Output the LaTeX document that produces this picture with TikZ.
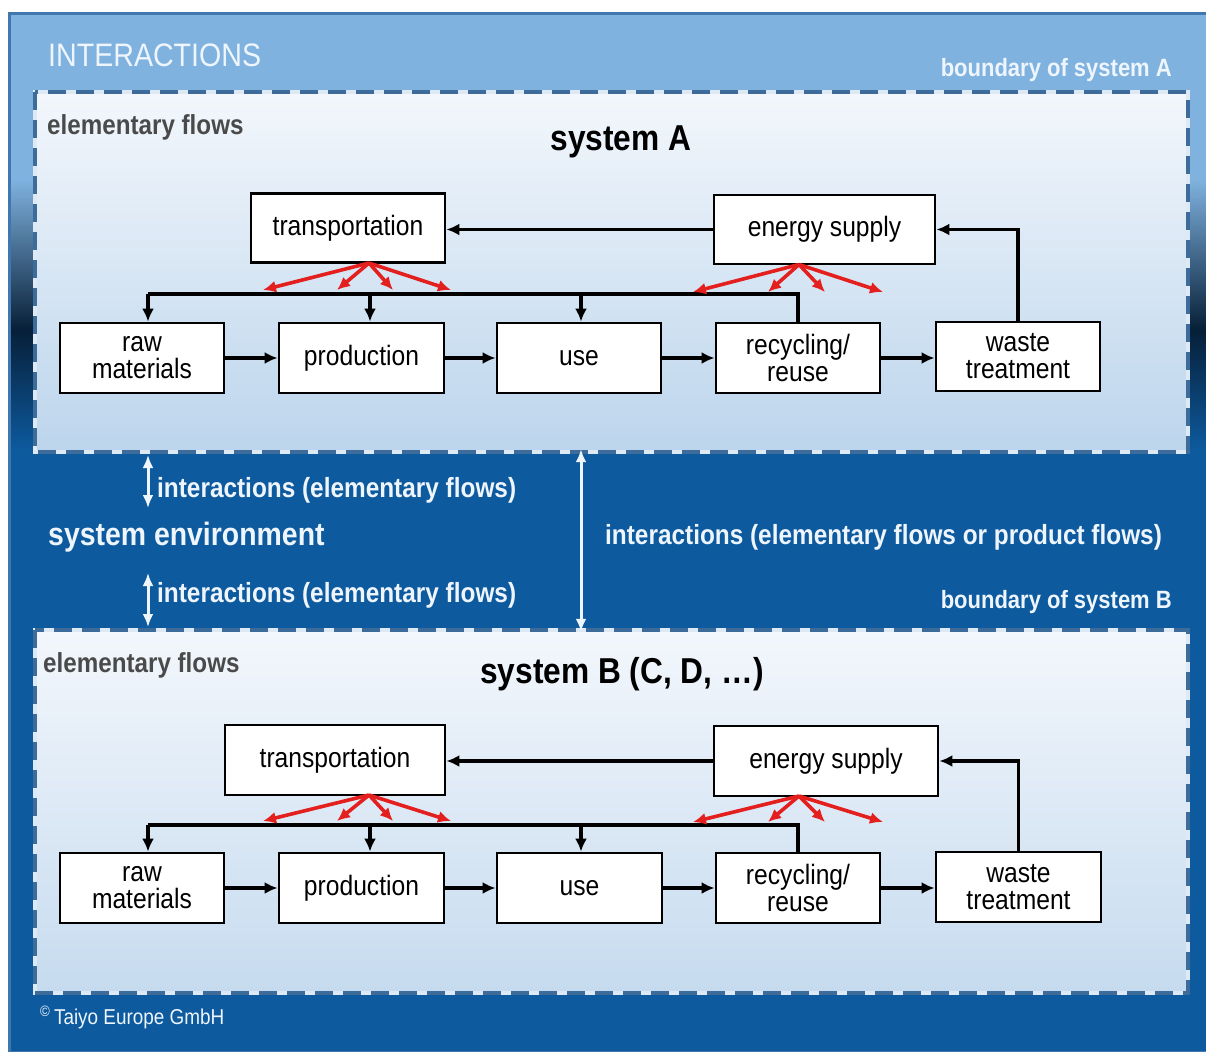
\documentclass[tikz,border=0pt]{standalone}
\usepackage{fontspec}
\setmainfont{Liberation Sans}[FakeStretch=0.88]
\usetikzlibrary{arrows.meta}
\definecolor{skyTop}{HTML}{7FB2DF}
\definecolor{navyDark}{HTML}{071F38}
\definecolor{envBlue}{HTML}{0D5A9E}
\definecolor{frameBlue}{HTML}{3F77AE}
\definecolor{dashBlue}{HTML}{3D6C9A}
\definecolor{gapLight}{HTML}{DDE9F5}
\definecolor{boxTop}{HTML}{F3F7FC}
\definecolor{boxBot}{HTML}{BCD5EC}
\definecolor{boxBotB}{HTML}{C6DBEF}
\definecolor{flowGray}{HTML}{4A4A4A}
\definecolor{paleText}{HTML}{EEF5FC}
\definecolor{redFlow}{HTML}{E3201E}
\tikzset{
  pbox/.style={draw=black, line width=2.8pt, fill=white, align=center, inner sep=0pt,
    font=\fontsize{28}{27}\selectfont},
  flowarr/.style={draw=black, line width=3.2pt, -{Latex[length=13pt,width=12pt]}},
  flowline/.style={draw=black, line width=3.2pt},
  redarr/.style={draw=redFlow, line width=3.6pt, -{Latex[length=13pt,width=12pt]}},
  envarr/.style={draw=paleText, line width=3pt, {Latex[length=13pt,width=11pt]}-{Latex[length=13pt,width=11pt]}},
  sysbox/.style={inner sep=0pt, top color=boxTop, bottom color=#1, draw=none},
  gapline/.style={draw=gapLight, line width=3.5pt},
  dashline/.style={draw=dashBlue, line width=3.5pt, dash pattern=on 18pt off 10pt},
  paletxt/.style={text=paleText, inner sep=0pt},
  graytxt/.style={text=flowGray, inner sep=0pt, font=\bfseries\fontsize{27.5}{30}\selectfont},
  titletxt/.style={text=black, inner sep=0pt, font=\bfseries\fontsize{36}{40}\selectfont},
  envtxt/.style={paletxt, font=\bfseries\fontsize{27.7}{30}\selectfont},
  boundtxt/.style={paletxt, font=\bfseries\fontsize{25}{28}\selectfont}
}
\begin{document}
\begin{tikzpicture}[x=1pt, y=-1pt]
\useasboundingbox (0,0) rectangle (1206,1051);
% background
\fill[white] (0,0) rectangle (1206,1051);
\fill[skyTop] (8,12) rectangle (1206,180);
\shade[top color=skyTop, bottom color=navyDark] (8,179.5) rectangle (1206,330);
\shade[top color=navyDark, bottom color=envBlue] (8,329.5) rectangle (1206,450);
\fill[envBlue] (8,449.5) rectangle (1206,1051);
\draw[frameBlue, line width=3pt] (9.5,13.5) rectangle (1207,1052);

% system boxes
\node[sysbox=boxBot, minimum width=1153pt, minimum height=360pt] (sysA) at (611.5,272) {};
\node[sysbox=boxBotB, minimum width=1153pt, minimum height=363pt] (sysB) at (611.5,811.5) {};
\foreach \s in {sysA,sysB}{
  \draw[gapline] (\s.north west) rectangle (\s.south east);
  \draw[dashline] (\s.north west) rectangle (\s.south east);
}

% top labels
\node[paletxt, anchor=base west, font=\fontsize{32.5}{35}\selectfont] (inter) at (48,67) {INTERACTIONS};
\node[boundtxt, anchor=base east] (bndA) at (1172,77) {boundary of system A};
\node[graytxt, anchor=base west] (efA) at (47,135) {elementary flows};
\node[titletxt, anchor=base] (titA) at (621,151) {system A};

% system A processes
\node[pbox, minimum width=194pt, minimum height=69pt] (tA) at (348,228) {transportation};
\node[pbox, minimum width=221pt, minimum height=69pt] (eA) at (824.5,229.5) {energy supply};
\node[pbox, minimum width=164pt, minimum height=70pt] (rA) at (142,358) {raw\\materials};
\node[pbox, minimum width=165pt, minimum height=70pt] (pA) at (361.5,358) {production};
\node[pbox, minimum width=164pt, minimum height=70pt] (uA) at (579,358) {use};
\node[pbox, minimum width=164pt, minimum height=70pt] (cA) at (798,358) {recycling/\\reuse};
\node[pbox, minimum width=164pt, minimum height=69pt] (wA) at (1018,356.5) {waste\\treatment};

\draw[flowarr] (eA.west) -- (eA.west -| tA.east);
\draw[flowarr] (wA.north) |- (eA.east);
\draw[flowarr] (rA.east) -- (rA.east -| pA.west);
\draw[flowarr] (pA.east) -- (pA.east -| uA.west);
\draw[flowarr] (uA.east) -- (uA.east -| cA.west);
\draw[flowarr] (cA.east) -- (cA.east -| wA.west);
\coordinate (bA1) at (148,294);
\coordinate (bA2) at (370,294);
\coordinate (bA3) at (581,294);
\draw[flowline] (cA.north) |- (bA1);
\draw[flowarr] (bA1) -- (bA1 |- rA.north);
\draw[flowarr] (bA2) -- (bA2 |- pA.north);
\draw[flowarr] (bA3) -- (bA3 |- uA.north);
\coordinate (tsA) at (369,263);
\coordinate (esA) at (799,264.5);
\foreach \i/\x in {1/263,2/337,3/393,4/451}{
  \coordinate (tA\i) at (\x,290);
  \draw[redarr] (tsA) -- (tA\i);
}
\foreach \i/\x in {1/693,2/768,3/825,4/883}{
  \coordinate (eA\i) at (\x,292);
  \draw[redarr] (esA) -- (eA\i);
}

% environment
\coordinate (ia1) at (148,455);
\coordinate (ia2) at (148,508);
\coordinate (ib1) at (148,573);
\coordinate (ib2) at (148,627);
\draw[envarr] (ia1) -- (ia2);
\draw[envarr] (ib1) -- (ib2);
\draw[envarr] ([yshift=3pt]sysA.south -| 581,0) -- ([yshift=-2pt]sysB.north -| 581,0);
\node[envtxt, anchor=base west] (ie1) at (157,497) {interactions (elementary flows)};
\node[paletxt, anchor=base west, font=\bfseries\fontsize{32.3}{35}\selectfont] (senv) at (48,545) {system environment};
\node[envtxt, anchor=base west] (ie2) at (157,602) {interactions (elementary flows)};
\node[envtxt, anchor=base west] (ip) at (605,544) {interactions (elementary flows or product flows)};
\node[boundtxt, anchor=base east] (bndB) at (1172,608) {boundary of system B};

% system B
\node[graytxt, anchor=base west] (efB) at (43,672) {elementary flows};
\node[titletxt, anchor=base] (titB) at (622,683) {system B (C, D, …)};

\node[pbox, minimum width=220pt, minimum height=70pt] (tB) at (335,760) {transportation};
\node[pbox, minimum width=224pt, minimum height=70pt] (eB) at (826,761) {energy supply};
\node[pbox, minimum width=164pt, minimum height=70pt] (rB) at (142,888) {raw\\materials};
\node[pbox, minimum width=165pt, minimum height=70pt] (pB) at (361.5,888) {production};
\node[pbox, minimum width=165pt, minimum height=70pt] (uB) at (579.5,888) {use};
\node[pbox, minimum width=164pt, minimum height=70pt] (cB) at (798,888) {recycling/\\reuse};
\node[pbox, minimum width=165pt, minimum height=70pt] (wB) at (1018.5,887) {waste\\treatment};

\draw[flowarr] (eB.west) -- (eB.west -| tB.east);
\draw[flowarr] (wB.north) |- (eB.east);
\draw[flowarr] (rB.east) -- (rB.east -| pB.west);
\draw[flowarr] (pB.east) -- (pB.east -| uB.west);
\draw[flowarr] (uB.east) -- (uB.east -| cB.west);
\draw[flowarr] (cB.east) -- (cB.east -| wB.west);
\coordinate (bB1) at (148,825);
\coordinate (bB2) at (370,825);
\coordinate (bB3) at (581,825);
\draw[flowline] (cB.north) |- (bB1);
\draw[flowarr] (bB1) -- (bB1 |- rB.north);
\draw[flowarr] (bB2) -- (bB2 |- pB.north);
\draw[flowarr] (bB3) -- (bB3 |- uB.north);
\coordinate (tsB) at (369,795);
\coordinate (esB) at (799,796);
\foreach \i/\x in {1/263,2/337,3/393,4/451}{
  \coordinate (tB\i) at (\x,821);
  \draw[redarr] (tsB) -- (tB\i);
}
\foreach \i/\x in {1/693,2/768,3/825,4/883}{
  \coordinate (eB\i) at (\x,822);
  \draw[redarr] (esB) -- (eB\i);
}

% copyright
\node[paletxt, anchor=base west, font=\fontsize{21.5}{23}\selectfont] (copy) at (40,1024) {\textsuperscript{©}\,Taiyo Europe GmbH};
\end{tikzpicture}
\end{document}
